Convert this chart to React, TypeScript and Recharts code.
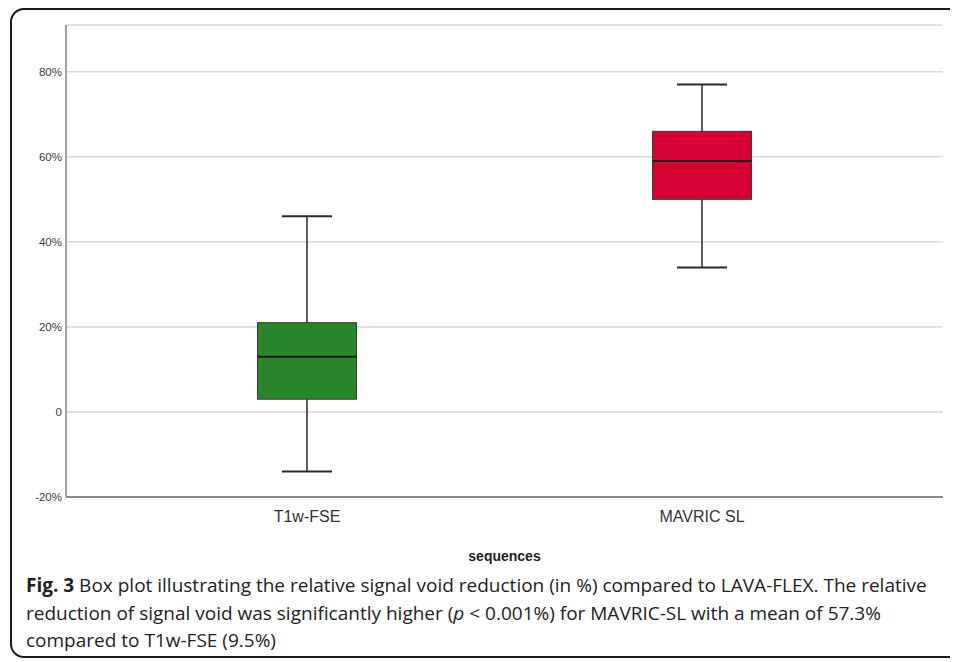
import React from 'react';
import { ComposedChart, Bar, XAxis, YAxis, CartesianGrid } from 'recharts';

const categories = ['T1w-FSE', 'MAVRIC SL'];
const minValues = [-14, 34];
const q1Values = [3, 50];
const medianValues = [13, 59];
const q3Values = [21, 66];
const maxValues = [46, 77];
const boxColors = ['#2A862A', '#D60032'];
const yTicks = [-20, 0, 20, 40, 60, 80];

const data = categories.map((name, i) => ({
  name,
  min: minValues[i],
  q1: q1Values[i],
  median: medianValues[i],
  q3: q3Values[i],
  max: maxValues[i],
  color: boxColors[i],
}));

const BoxShape = (props: any) => {
  const { x, y, width, height, payload } = props;
  if (payload == null || height == null) return null;
  const { min, max, q1, q3, median, color } = payload;
  const yOf = (v: number) => y + ((max - v) / (max - min)) * height;
  const cx = x + width / 2;
  const capHalf = 25;
  return (
    <g>
      <line x1={cx} x2={cx} y1={yOf(max)} y2={yOf(min)} stroke="#2a2a2a" strokeWidth={1.5} />
      <line x1={cx - capHalf} x2={cx + capHalf} y1={yOf(max)} y2={yOf(max)} stroke="#2a2a2a" strokeWidth={2} />
      <line x1={cx - capHalf} x2={cx + capHalf} y1={yOf(min)} y2={yOf(min)} stroke="#2a2a2a" strokeWidth={2} />
      <rect x={x} y={yOf(q3)} width={width} height={yOf(q1) - yOf(q3)} fill={color} stroke="#3a3a3a" strokeWidth={1} />
      <line x1={x} x2={x + width} y1={yOf(median)} y2={yOf(median)} stroke="#1a1a1a" strokeWidth={2} />
    </g>
  );
};

export default function App() {
  return (
    <div style={{ position: 'relative', width: 950, height: 654, overflow: 'hidden' }}>
      <div
        style={{
          position: 'absolute',
          left: 2,
          top: 0,
          width: 1000,
          height: 650,
          border: '2px solid #1a1a1a',
          borderRadius: 14,
          boxSizing: 'border-box',
        }}
      />
      <div style={{ position: 'absolute', left: 0, top: 0 }}>
        <ComposedChart
          width={950}
          height={570}
          data={data}
          margin={{ top: 17, right: 15, bottom: 11, left: 0 }}
        >
          <CartesianGrid vertical={false} stroke="#d9d9d9" strokeWidth={1.5} />
          <XAxis
            dataKey="name"
            padding={{ left: 43.5, right: 43.5 }}
            height={70}
            tickLine={false}
            tickSize={12}
            tick={{ fontFamily: 'Liberation Sans, Arial, sans-serif', fontSize: 16, fill: '#333' }}
            axisLine={{ stroke: '#8a8a8a', strokeWidth: 2 }}
            label={{
              value: 'sequences',
              position: 'insideBottom',
              offset: 6,
              style: { fontFamily: 'Liberation Sans, Arial, sans-serif', fontSize: 14, fontWeight: 'bold', fill: '#222' },
            }}
          />
          <YAxis
            width={58}
            domain={[-20, 91]}
            ticks={yTicks}
            allowDataOverflow
            tickLine={false}
            tickSize={2}
            tickFormatter={(v: number) => (v === 0 ? '0' : `${v}%`)}
            tick={{ fontFamily: 'Liberation Sans, Arial, sans-serif', fontSize: 11.5, fill: '#3a3a3a' }}
            axisLine={{ stroke: '#a0a0a0', strokeWidth: 2 }}
          />
          <Bar
            dataKey={(d: any) => [d.min, d.max]}
            barSize={99}
            shape={<BoxShape />}
            isAnimationActive={false}
          />
        </ComposedChart>
      </div>
      <div
        style={{
          position: 'absolute',
          left: 18,
          top: 564,
          fontFamily: 'Open Sans, sans-serif',
          fontSize: 19,
          lineHeight: '27.5px',
          color: '#222',
          whiteSpace: 'nowrap',
        }}
      >
        <b>Fig. 3</b> Box plot illustrating the relative signal void reduction (in %) compared to LAVA-FLEX. The relative
        <br />
        reduction of signal void was significantly higher (<i>p</i> &lt; 0.001%) for MAVRIC-SL with a mean of 57.3%
        <br />
        compared to T1w-FSE (9.5%)
      </div>
    </div>
  );
}
